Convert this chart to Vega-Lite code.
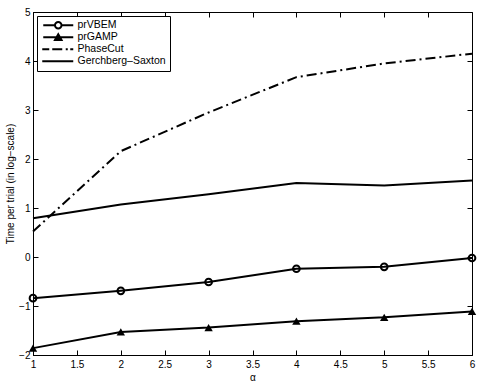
{
  "$schema": "https://vega.github.io/schema/vega-lite/v6.json",
  "autosize": "none",
  "width": 439,
  "height": 343,
  "padding": {"left": 33, "top": 12, "right": 10, "bottom": 32},
  "background": "white",
  "config": {
    "font": "Liberation Sans",
    "view": {"stroke": "black", "strokeWidth": 1},
    "axis": {
      "grid": false,
      "domainColor": "black",
      "labelColor": "black",
      "labelFontSize": 10,
      "labelFont": "Liberation Sans",
      "titleFont": "Liberation Sans",
      "titleFontWeight": "normal",
      "titleFontSize": 10,
      "titleColor": "black"
    }
  },
  "data": {
    "values": [
      {"alpha": 1, "time": -0.84, "series": "prVBEM"},
      {"alpha": 2, "time": -0.69, "series": "prVBEM"},
      {"alpha": 3, "time": -0.51, "series": "prVBEM"},
      {"alpha": 4, "time": -0.24, "series": "prVBEM"},
      {"alpha": 5, "time": -0.2, "series": "prVBEM"},
      {"alpha": 6, "time": -0.02, "series": "prVBEM"},
      {"alpha": 1, "time": -1.86, "series": "prGAMP"},
      {"alpha": 2, "time": -1.53, "series": "prGAMP"},
      {"alpha": 3, "time": -1.44, "series": "prGAMP"},
      {"alpha": 4, "time": -1.31, "series": "prGAMP"},
      {"alpha": 5, "time": -1.23, "series": "prGAMP"},
      {"alpha": 6, "time": -1.11, "series": "prGAMP"},
      {"alpha": 1, "time": 0.52, "series": "PhaseCut"},
      {"alpha": 2, "time": 2.16, "series": "PhaseCut"},
      {"alpha": 3, "time": 2.95, "series": "PhaseCut"},
      {"alpha": 4, "time": 3.67, "series": "PhaseCut"},
      {"alpha": 5, "time": 3.95, "series": "PhaseCut"},
      {"alpha": 6, "time": 4.15, "series": "PhaseCut"},
      {"alpha": 1, "time": 0.79, "series": "Gerchberg–Saxton"},
      {"alpha": 2, "time": 1.07, "series": "Gerchberg–Saxton"},
      {"alpha": 3, "time": 1.28, "series": "Gerchberg–Saxton"},
      {"alpha": 4, "time": 1.51, "series": "Gerchberg–Saxton"},
      {"alpha": 5, "time": 1.46, "series": "Gerchberg–Saxton"},
      {"alpha": 6, "time": 1.56, "series": "Gerchberg–Saxton"}
    ]
  },
  "layer": [
    {
      "transform": [{"filter": "datum.series !== 'PhaseCut'"}],
      "mark": {"type": "line", "color": "black", "strokeWidth": 2},
      "encoding": {
        "x": {"field": "alpha", "type": "quantitative", "scale": {"domain": [1, 6], "nice": false, "zero": false},
              "axis": {"title": "α", "values": [1, 1.5, 2, 2.5, 3, 3.5, 4, 4.5, 5, 5.5, 6], "format": "~g", "ticks": true, "tickColor": "black", "tickSize": -5, "tickWidth": 1, "labelPadding": 9, "titlePadding": 3, "labelFlush": false}},
        "y": {"field": "time", "type": "quantitative", "scale": {"domain": [-2, 5], "nice": false, "zero": false},
              "axis": {"title": "Time per trial (in log−scale)", "values": [-2, -1, 0, 1, 2, 3, 4, 5], "format": "~g", "ticks": true, "tickColor": "black", "tickSize": -5, "tickWidth": 1, "labelPadding": 8, "titlePadding": 3, "labelFlush": false}},
        "detail": {"field": "series"}
      }
    },
    {
      "transform": [{"filter": "datum.series === 'PhaseCut'"}],
      "mark": {"type": "line", "color": "black", "strokeWidth": 2, "strokeDash": [10, 4, 2, 4]},
      "encoding": {
        "x": {"field": "alpha", "type": "quantitative", "axis": {"orient": "top", "labels": false, "title": null, "domain": false, "ticks": true, "tickColor": "black", "tickSize": -5, "tickWidth": 1, "values": [1, 1.5, 2, 2.5, 3, 3.5, 4, 4.5, 5, 5.5, 6]}},
        "y": {"field": "time", "type": "quantitative", "axis": {"orient": "right", "labels": false, "title": null, "domain": false, "ticks": true, "tickColor": "black", "tickSize": -5, "tickWidth": 1, "values": [-2, -1, 0, 1, 2, 3, 4, 5]}}
      }
    },
    {
      "transform": [{"filter": "datum.series === 'prVBEM'"}],
      "mark": {"type": "point", "shape": "circle", "filled": false, "color": "black", "strokeWidth": 2, "size": 45, "opacity": 1},
      "encoding": {
        "x": {"field": "alpha", "type": "quantitative", "axis": null},
        "y": {"field": "time", "type": "quantitative", "axis": null}
      }
    },
    {
      "transform": [{"filter": "datum.series === 'prGAMP'"}],
      "mark": {"type": "point", "shape": "triangle-up", "filled": true, "color": "black", "size": 70, "opacity": 1},
      "encoding": {
        "x": {"field": "alpha", "type": "quantitative", "axis": null},
        "y": {"field": "time", "type": "quantitative", "axis": null}
      }
    },
    {
      "transform": [{"filter": "datum.alpha > 100"}],
      "mark": {"type": "point", "filled": true, "fill": "black", "opacity": 1, "size": 100},
      "encoding": {
        "x": {"field": "alpha", "type": "quantitative", "axis": null},
        "y": {"field": "time", "type": "quantitative", "axis": null},
        "shape": {"field": "series", "type": "nominal",
                  "scale": {"domain": ["prVBEM", "prGAMP", "PhaseCut", "Gerchberg–Saxton"],
                            "range": [
                              "M-3,-0.2H-0.75V0.2H-3ZM0.75,-0.2H3V0.2H0.75ZM0.85,0A0.85,0.85,0,1,1,-0.85,0A0.85,0.85,0,1,1,0.85,0ZM0.45,0A0.45,0.45,0,1,0,-0.45,0A0.45,0.45,0,1,0,0.45,0Z",
                              "M-3,-0.2H3V0.2H-3ZM0,-1L1,0.75L-1,0.75Z",
                              "M-3.2,-0.2H-1.8V0.2H-3.2ZM-1.2,-0.2H0.8V0.2H-1.2ZM1.5,-0.2H1.9V0.2H1.5ZM2.4,-0.2H3V0.2H2.4Z",
                              "M-3.2,-0.2H3V0.2H-3.2Z"
                            ]},
                  "legend": {
                    "title": null,
                    "orient": "top-left",
                    "offset": 4,
                    "padding": 4,
                    "fillColor": "white",
                    "strokeColor": "black",
                    "symbolFillColor": "black",
                    "symbolStrokeColor": "transparent",
                    "symbolStrokeWidth": 0,
                    "symbolOpacity": 1,
                    "symbolSize": 100,
                    "symbolOffset": 12,
                    "labelOffset": 14,
                    "labelFontSize": 10.5,
                    "labelColor": "black",
                    "labelFont": "Liberation Sans",
                    "rowPadding": 1,
                    "cornerRadius": 0
                  }}
      }
    }
  ],
  "resolve": {"axis": {"x": "independent", "y": "independent"}}
}
